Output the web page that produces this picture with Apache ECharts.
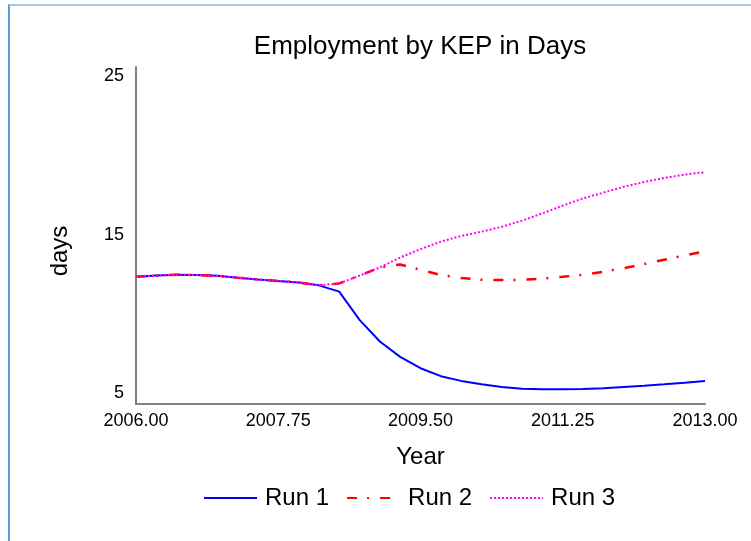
<!DOCTYPE html>
<html>
<head>
<meta charset="utf-8">
<script src="https://cdn.jsdelivr.net/npm/echarts@6/dist/echarts.min.js"></script>
<style>
  html, body { margin: 0; padding: 0; background: #fff; }
  .frame {
    position: absolute; left: 8px; top: 4px; width: 800px; height: 600px;
    border-left: 2px solid #5b9bd5; border-top: 2px solid #a9c8e8;
  }
  #chart { position: absolute; left: 0; top: 0; width: 751px; height: 541px; }
</style>
</head>
<body>
<div class="frame"></div>
<div id="chart"></div>
<script>
// quarterly time steps
var years = [2006, 2006.25, 2006.5, 2006.75, 2007, 2007.25, 2007.5, 2007.75,
  2008, 2008.25, 2008.5, 2008.75, 2009, 2009.25, 2009.5, 2009.75,
  2010, 2010.25, 2010.5, 2010.75, 2011, 2011.25, 2011.5, 2011.75,
  2012, 2012.25, 2012.5, 2012.75, 2013];
var run1 = [12.34, 12.42, 12.47, 12.45, 12.40, 12.28, 12.17, 12.07,
  11.98, 11.80, 11.40, 9.62, 8.25, 7.28, 6.56, 6.06,
  5.76, 5.55, 5.38, 5.27, 5.23, 5.23, 5.25, 5.30,
  5.38, 5.46, 5.55, 5.65, 5.76];
var run2 = [12.34, 12.42, 12.47, 12.45, 12.40, 12.28, 12.17, 12.07,
  11.98, 11.80, 11.92, 12.41, 12.93, 13.12, 12.78, 12.45,
  12.26, 12.15, 12.13, 12.15, 12.23, 12.34, 12.47, 12.66,
  12.89, 13.14, 13.42, 13.69, 13.95];
var run3 = [12.34, 12.42, 12.47, 12.45, 12.40, 12.28, 12.17, 12.07,
  11.98, 11.80, 11.92, 12.41, 12.93, 13.56, 14.09, 14.56,
  14.92, 15.19, 15.50, 15.89, 16.35, 16.84, 17.30, 17.66,
  18.03, 18.33, 18.59, 18.80, 18.95];
var xTicks = [2006, 2007.75, 2009.5, 2011.25, 2013];
var yTicks = [5, 15, 25];

function pairs(vals) {
  return years.map(function (y, i) { return [y, vals[i]]; });
}

var font = "Liberation Sans, Arial, sans-serif";
var chart = echarts.init(document.getElementById("chart"));
chart.setOption({
  animation: false,
  textStyle: { fontFamily: font, color: "#000" },
  title: {
    text: "Employment by KEP in Days",
    left: 420,
    top: 34,
    textAlign: "center",
    padding: 0,
    textStyle: { fontSize: 26, fontWeight: "normal", color: "#000", fontFamily: font }
  },
  grid: { left: 136, right: 46, top: 67, bottom: 137 },
  xAxis: {
    type: "value",
    min: 2006,
    max: 2013,
    name: "Year",
    nameLocation: "middle",
    nameGap: 41,
    nameTextStyle: { fontSize: 24, color: "#000", fontFamily: font },
    axisLine: { onZero: false, lineStyle: { color: "#808080", width: 2 } },
    axisTick: { show: false },
    splitLine: { show: false },
    axisLabel: {
      customValues: xTicks,
      fontSize: 18,
      color: "#000",
      margin: 8,
      formatter: function (v) { return v.toFixed(2); }
    }
  },
  yAxis: {
    type: "value",
    min: 4.3,
    max: 25.6,
    axisLine: { show: true, onZero: false, lineStyle: { color: "#808080", width: 2 } },
    axisTick: { show: false },
    splitLine: { show: false },
    axisLabel: { customValues: yTicks, fontSize: 18, color: "#000", margin: 12 }
  },
  graphic: [{
    type: "text",
    x: 60,
    y: 251,
    rotation: Math.PI / 2,
    style: {
      text: "days",
      fontSize: 24,
      fontFamily: font,
      fill: "#000",
      textAlign: "center",
      textVerticalAlign: "middle"
    }
  }],
  legend: {
    left: 203,
    top: 486,
    padding: 0,
    itemWidth: 53,
    itemHeight: 14,
    itemGap: 17,
    itemStyle: { opacity: 0 },
    textStyle: { fontSize: 24, color: "#000", fontFamily: font, padding: [0, 0, 0, 3] },
    data: ["Run 1", "Run 2", "Run 3"]
  },
  series: [
    {
      name: "Run 1",
      type: "line",
      symbol: "none",
      data: pairs(run1),
      lineStyle: { color: "#0000ff", width: 2 },
      itemStyle: { color: "#0000ff" }
    },
    {
      name: "Run 2",
      type: "line",
      symbol: "none",
      data: pairs(run2),
      lineStyle: { color: "#ff0000", width: 2.5, type: [10, 10, 2, 11] },
      itemStyle: { color: "#ff0000" }
    },
    {
      name: "Run 3",
      type: "line",
      symbol: "none",
      data: pairs(run3),
      lineStyle: { color: "#ff00ff", width: 2, type: [2, 2] },
      itemStyle: { color: "#ff00ff" }
    }
  ]
});
</script>
</body>
</html>
